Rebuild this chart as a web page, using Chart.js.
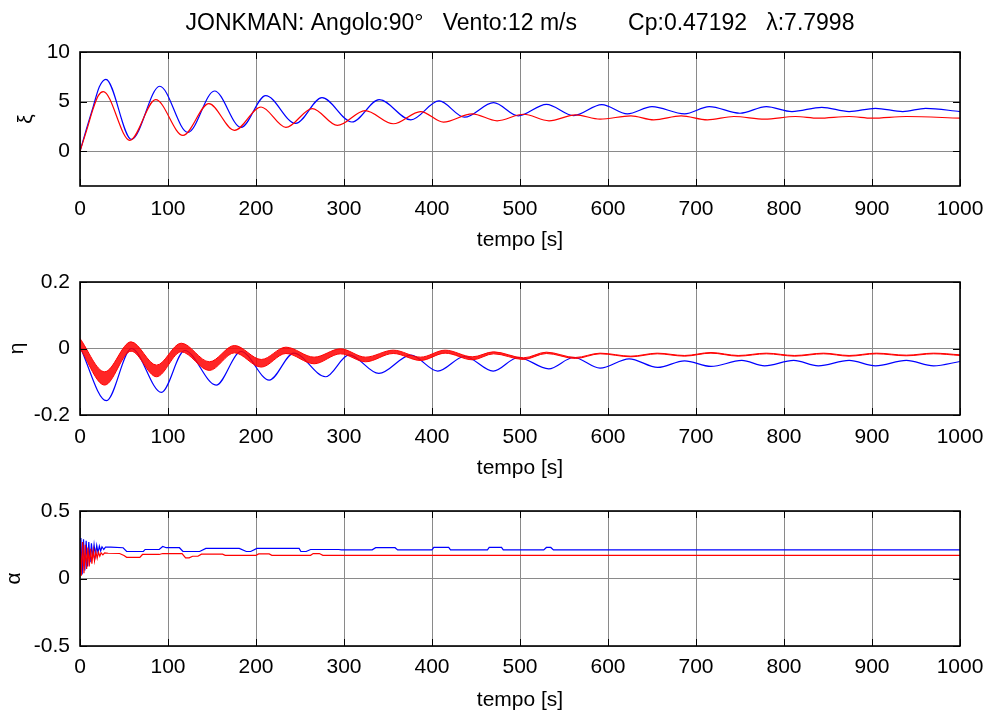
<!DOCTYPE html>
<html><head><meta charset="utf-8">
<script src="https://cdn.jsdelivr.net/npm/chart.js@4/dist/chart.umd.min.js"></script>
<style>
html,body{margin:0;padding:0;background:#fff;width:988px;height:713px;overflow:hidden;}
canvas{position:absolute;left:0;}
</style></head><body>
<canvas id="c1" style="top:0px"></canvas>
<canvas id="c2" style="top:255px"></canvas>
<canvas id="c3" style="top:485px"></canvas>
<script>
// ---------- DATA ----------
const TITLE = 'JONKMAN: Angolo:90°   Vento:12 m/s        Cp:0.47192   \u03bb:7.7998';
const X_TICKS = [0,100,200,300,400,500,600,700,800,900,1000];

// ξ (top panel)
const xiBlueT = [0,7.5,15,22,29.4,58.5,90.6,122.6,152.8,183,211,245,275,309,340,376,408,437,470,498,530,561,593,622,650,687,715,750,780,809,843,874,904,935,961,1000];
const xiBlueV = [0,2.3,4.5,6.5,7.25,1.2,6.55,1.9,6.07,2.4,5.6,2.8,5.4,2.95,5.2,3.17,5.07,3.43,4.9,3.57,4.73,3.6,4.7,3.77,4.5,3.77,4.5,3.83,4.5,4.0,4.43,4.0,4.33,4.0,4.33,4.0];
const xiRedT  = [0,7.5,15,20.8,26.4,56.6,86,117,146.4,175.5,205.7,234,264,292.5,324,356,387,413,445.6,474,504,533,563,591,626,652,683,713,743,778,813,839,874,900,939,1000];
const xiRedV  = [0,2.1,4.3,5.6,6.0,1.1,5.2,1.6,4.8,2.1,4.46,2.4,4.3,2.6,4.1,2.77,4.0,2.93,3.77,3.07,3.73,3.07,3.67,3.23,3.57,3.17,3.57,3.17,3.5,3.23,3.5,3.33,3.5,3.33,3.5,3.33];
const xiTicks = [0,5,10];

// η (middle panel)
const etaBlueT = [0,30,58.5,92.5,119,154.7,183,215,243,279,305.7,339.6,376,406.5,437,469.6,498,532.6,561,591,624,656.5,687,717,752,778,811,839,874,904,939,970,1000];
const etaBlueV = [0.005,-0.157,0.0,-0.132,-0.006,-0.11,-0.009,-0.095,-0.014,-0.085,-0.019,-0.075,-0.02,-0.068,-0.024,-0.068,-0.027,-0.061,-0.027,-0.059,-0.031,-0.057,-0.037,-0.054,-0.036,-0.052,-0.036,-0.052,-0.036,-0.052,-0.036,-0.052,-0.039];
const etaRedT     = [0,28,58,87,115,147,175.5,206,234,266,296,324.5,356,387,415,446,470,504,530,563,591,626,656,687,717,748,780,812,845,874,905,939,970,1000];
const etaRedUpper = [0.030,-0.070,0.020,-0.050,0.016,-0.040,0.009,-0.033,0.004,-0.026,-0.001,-0.026,-0.005,-0.026,-0.005,-0.025,-0.010,-0.028,-0.011,-0.027,-0.014,-0.023,-0.014,-0.021,-0.012,-0.021,-0.014,-0.021,-0.014,-0.021,-0.014,-0.020,-0.014,-0.019];
const etaRedLower = [0.000,-0.110,-0.008,-0.085,-0.010,-0.066,-0.013,-0.056,-0.015,-0.046,-0.016,-0.040,-0.015,-0.036,-0.014,-0.034,-0.016,-0.033,-0.015,-0.030,-0.016,-0.025,-0.016,-0.023,-0.014,-0.023,-0.016,-0.023,-0.016,-0.023,-0.016,-0.022,-0.016,-0.021];
const etaTicks = [-0.2,0,0.2];

// α (bottom panel)
const alphaBlueT = [0,1,2.5,4,5.5,7,8.5,10,11.5,13,14.5,16,17.5,19,20.5,22,23.5,25,27,29,35,49,53,72,74,90,94,98,113,117,136,143,181,189,194,201,249,251,257,262,294,297,332,336,358,361,400,402,419,421,463,465,479,481,527,530,535,538,1000];
const alphaBlueV = [0.05,0.30,0.03,0.29,0.06,0.28,0.09,0.27,0.12,0.26,0.15,0.25,0.17,0.245,0.19,0.24,0.205,0.235,0.215,0.232,0.232,0.228,0.2,0.2,0.215,0.215,0.237,0.228,0.228,0.2,0.2,0.223,0.223,0.2,0.2,0.223,0.223,0.2,0.2,0.215,0.215,0.212,0.212,0.228,0.228,0.212,0.212,0.23,0.23,0.212,0.212,0.23,0.23,0.212,0.212,0.23,0.23,0.212,0.212];
const alphaRedT = [0,1.5,3,4.5,6,7.5,9,10.5,12,13.5,15,16.5,18,19.5,21,22.5,24,26,28,32,45,50,53,68,71,90,94,116,120,124,128,134,138,162,165,200,203,215,218,262,265,272,276,1000];
const alphaRedV = [0.28,0.02,0.27,0.04,0.25,0.07,0.23,0.09,0.22,0.11,0.21,0.13,0.20,0.15,0.195,0.165,0.19,0.175,0.19,0.187,0.185,0.17,0.157,0.157,0.178,0.178,0.185,0.185,0.153,0.153,0.165,0.165,0.18,0.18,0.172,0.172,0.182,0.182,0.172,0.172,0.185,0.185,0.172,0.172];
const alphaTicks = [-0.5,0,0.5];

// ---------- STYLE ----------
const FONT = "'Liberation Sans', Arial, Helvetica, sans-serif";
const BLUE = '#0000ff', RED = '#ff0000';
const GRID = '#8a8a8a';
const pts = (T, V) => T.map((t, i) => ({x: t, y: V[i]}));

const framePlugin = {
  id: 'frame',
  afterDatasetsDraw(chart) {
    const {ctx, chartArea: {left, right, top, bottom}, scales: {x, y}} = chart;
    ctx.save();
    ctx.strokeStyle = '#000';
    ctx.lineWidth = 1;
    ctx.beginPath();
    x.ticks.forEach(t => {
      const px = Math.round(x.getPixelForValue(t.value)) + 0.5;
      ctx.moveTo(px, top); ctx.lineTo(px, top + 7);
      ctx.moveTo(px, bottom); ctx.lineTo(px, bottom - 7);
    });
    y.ticks.forEach(t => {
      const py = Math.round(y.getPixelForValue(t.value)) + 0.5;
      ctx.moveTo(left, py); ctx.lineTo(left + 7, py);
      ctx.moveTo(right, py); ctx.lineTo(right - 7, py);
    });
    ctx.stroke();
    ctx.lineWidth = 1.6;
    ctx.strokeRect(left, top, right - left, bottom - top);
    ctx.restore();
  }
};

function makeChart(id, h, cfg) {
  const canvas = document.getElementById(id);
  canvas.width = 988; canvas.height = h;
  canvas.style.width = '988px'; canvas.style.height = h + 'px';
  return new Chart(canvas, {
    type: 'line',
    data: {datasets: cfg.datasets},
    plugins: [framePlugin],
    options: {
      responsive: false,
      animation: false,
      devicePixelRatio: 1,
      layout: {padding: {top: cfg.padTop, right: 28, bottom: 0, left: 0}},
      plugins: {
        legend: {display: false},
        tooltip: {enabled: false},
        title: cfg.title ? {
          display: true, text: cfg.title, color: '#000', fullSize: false,
          font: {family: FONT, size: 23, weight: 'normal'},
          padding: {top: 10, bottom: 14.4}
        } : {display: false}
      },
      elements: {point: {radius: 0}, line: {borderWidth: 1.2}},
      scales: {
        x: {
          type: 'linear', min: 0, max: 1000,
          afterBuildTicks: s => { s.ticks = X_TICKS.map(v => ({value: v})); },
          afterFit: s => { s.height = cfg.xAxisH; s.paddingLeft = 0; s.paddingRight = 0; },
          ticks: {color: '#000', font: {family: FONT, size: 21}, padding: cfg.xTickPad, maxRotation: 0, autoSkip: false,
                  callback: v => String(v)},
          grid: {color: GRID, lineWidth: 1, drawTicks: false},
          border: {display: false},
          title: {display: true, text: 'tempo [s]', color: '#000', font: {family: FONT, size: 21},
                  padding: {top: 0, bottom: cfg.xTitlePad}}
        },
        y: {
          type: 'linear', min: cfg.yMin, max: cfg.yMax,
          afterBuildTicks: s => { s.ticks = cfg.yTicks.map(v => ({value: v})); },
          afterFit: s => { s.width = 80; s.paddingTop = 0; s.paddingBottom = 0; },
          ticks: {color: '#000', font: {family: FONT, size: 21}, padding: 10, callback: v => String(v)},
          grid: {color: GRID, lineWidth: 1, drawTicks: false},
          border: {display: false},
          title: {display: true, text: cfg.yTitle, color: '#000', font: {family: FONT, size: 21},
                  padding: {top: cfg.yTitlePad, bottom: 0}}
        }
      }
    }
  });
}

makeChart('c1', 255, {
  title: TITLE, padTop: 0, xAxisH: 69, xTickPad: 11, xTitlePad: 2,
  yMin: -3.5, yMax: 10, yTicks: xiTicks, yTitle: '\u03be', yTitlePad: 14,
  datasets: [
    {data: pts(xiRedT, xiRedV), borderColor: RED, cubicInterpolationMode: 'monotone'},
    {data: pts(xiBlueT, xiBlueV), borderColor: BLUE, cubicInterpolationMode: 'monotone'}
  ]
});

makeChart('c2', 230, {
  title: null, padTop: 27, xAxisH: 70, xTickPad: 10, xTitlePad: 4,
  yMin: -0.2, yMax: 0.2, yTicks: etaTicks, yTitle: '\u03b7', yTitlePad: 5,
  datasets: [
    {data: pts(etaRedT, etaRedUpper), borderColor: RED, borderWidth: 1, cubicInterpolationMode: 'monotone', fill: false},
    {data: pts(etaRedT, etaRedLower), borderColor: RED, borderWidth: 1, cubicInterpolationMode: 'monotone',
     fill: '-1', backgroundColor: 'rgba(255,0,0,0.85)'},
    {data: pts(etaBlueT, etaBlueV), borderColor: BLUE, cubicInterpolationMode: 'monotone'}
  ]
});

makeChart('c3', 228, {
  title: null, padTop: 26, xAxisH: 67, xTickPad: 9, xTitlePad: 0,
  yMin: -0.5, yMax: 0.5, yTicks: alphaTicks, yTitle: '\u03b1', yTitlePad: 2,
  datasets: [
    {data: pts(alphaRedT, alphaRedV), borderColor: RED, tension: 0},
    {data: pts(alphaBlueT, alphaBlueV), borderColor: BLUE, tension: 0}
  ]
});
</script>
</body></html>
